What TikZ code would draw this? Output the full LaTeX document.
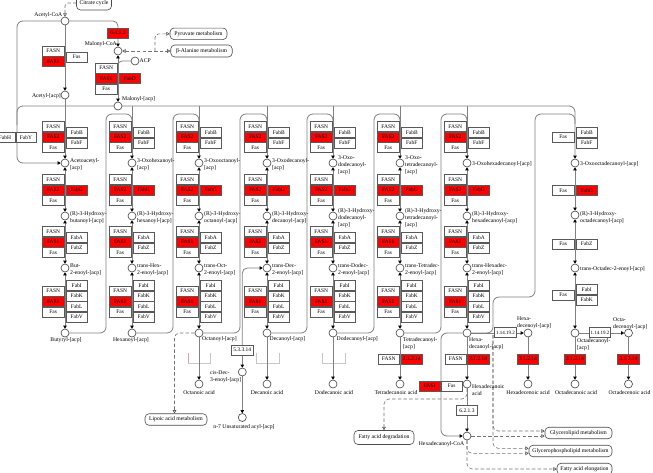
\documentclass[tikz,border=0pt]{standalone}
\usepackage{fontspec}
\setmainfont{Liberation Serif}
\usetikzlibrary{arrows.meta}
\pgfdeclarelayer{bg}
\pgfsetlayers{bg,main}
\tikzset{
  ktip/.tip={Triangle[width=3.4pt,length=3pt,color=black]},
  otip/.tip={Triangle[open,width=3.8pt,length=3.4pt,color=black!70]},
  kbox/.style={draw=black!65,line width=0.55pt,fill=white,minimum width=21.5pt,minimum height=9.6pt,inner sep=0pt,font=\fontsize{5.5}{6}\selectfont},
  rbox/.style={kbox,fill=red},
  cpd/.style={circle,draw=black!75,line width=0.6pt,fill=white,minimum size=8pt,inner sep=0pt},
  conn/.style={draw=black!50,line width=0.8pt},
  dconn/.style={draw=black!55,line width=0.6pt,dash pattern=on 3.5pt off 2.2pt},
  mapbox/.style={draw=black!70,line width=0.6pt,rounded corners=4pt,fill=white,inner xsep=2pt,inner ysep=0pt,minimum height=11.5pt},
  lbl/.style={inner sep=0pt,align=left},
  lblc/.style={inner sep=0pt,align=center},
}
\begin{document}
\begin{tikzpicture}[x=1pt,y=-1pt,font=\fontsize{5.7}{6.9}\selectfont]
\useasboundingbox (0,0) rectangle (653,472);
\clip (0,0) rectangle (653,472);

% ---------- repeated columns ----------
\foreach \i/\cx in {1/65,2/132,3/199,4/267,5/333,6/400,7/467}{
  \node[kbox] (a1\i) at (\cx-11.75,126.5) {FASN};
  \node[rbox] (a2\i) at (\cx-11.75,137) {FAS2};
  \node[kbox] (a3\i) at (\cx-11.75,147.5) {Fas};
  \node[kbox] (b1\i) at (\cx+11.75,132.5) {FabB};
  \node[kbox] (b2\i) at (\cx+11.75,143) {FabF};
  \node[kbox] (g1\i) at (\cx-11.75,179.5) {FASN};
  \node[rbox] (g2\i) at (\cx-11.75,190) {FAS2};
  \node[kbox] (g3\i) at (\cx-11.75,200.5) {Fas};
  \node[rbox] (g4\i) at (\cx+11.75,190) {FabG};
  \node[kbox] (z1\i) at (\cx-11.75,231.5) {FASN};
  \node[rbox] (z2\i) at (\cx-11.75,242) {FAS1};
  \node[kbox] (z3\i) at (\cx-11.75,252.5) {Fas};
  \node[kbox] (z4\i) at (\cx+11.75,237.5) {FabA};
  \node[kbox] (z5\i) at (\cx+11.75,248) {FabZ};
  \node[kbox] (r1\i) at (\cx-11.75,291) {FASN};
  \node[rbox] (r2\i) at (\cx-11.75,301.5) {FAS1};
  \node[kbox] (r3\i) at (\cx-11.75,312) {Fas};
  \node[kbox] (r4\i) at (\cx+11.75,285.5) {FabI};
  \node[kbox] (r5\i) at (\cx+11.75,296) {FabK};
  \node[kbox] (r6\i) at (\cx+11.75,306.5) {FabL};
  \node[kbox] (r7\i) at (\cx+11.75,317) {FabV};
  \node[cpd] (ox\i) at (\cx,163) {};
  \node[cpd] (hy\i) at (\cx,216) {};
  \node[cpd] (en\i) at (\cx,268) {};
  \node[cpd] (ac\i) at (\cx,333) {};
}
% ---------- column 8 (C18) ----------
\node[kbox] (a38) at (563.25,137) {Fas};
\node[kbox] (b18) at (586.75,132.5) {FabB};
\node[kbox] (b28) at (586.75,143) {FabF};
\node[kbox] (g38) at (563.25,190.5) {Fas};
\node[rbox] (g48) at (586.75,190.5) {FabG};
\node[kbox] (z38) at (563.25,244) {Fas};
\node[kbox] (z58) at (586.75,244) {FabZ};
\node[kbox] (r38) at (563.25,295) {Fas};
\node[kbox] (r48) at (586.75,289.5) {FabI};
\node[kbox] (r58) at (586.75,300) {FabK};
\node[cpd] (ox8) at (575,163) {};
\node[cpd] (hy8) at (575,215) {};
\node[cpd] (en8) at (575,268) {};
\node[cpd] (ac8) at (575,333) {};

% ---------- top left ----------
\node[cpd] (acoa) at (65,21) {};
\node[cpd] (mcoa) at (118,51) {};
\node[cpd] (aacp) at (65,95) {};
\node[cpd] (macp) at (118,106) {};
\node[cpd] (acp) at (135,61) {};
\node[rbox] (e6412) at (118,33) {6.4.1.2};
\node[kbox] (p1) at (53.25,51) {FASN};
\node[rbox] (p2) at (53.25,61.5) {FAS1};
\node[kbox] (p3) at (76.75,57) {Fas};
\node[kbox] (m1) at (106.25,68) {FASN};
\node[rbox] (m2) at (106.25,78.5) {FAS1};
\node[kbox] (m3) at (106.25,89) {Fas};
\node[rbox] (m4) at (129.75,78.5) {FabD};
\node[kbox] (fh) at (5,137.5) {FabH};
\node[kbox,minimum width=20pt] (fy) at (26,137.5) {FabY};
\node[mapbox,minimum width=35pt,minimum height=14pt] (cit) at (94,3) {Citrate cycle};
\node[mapbox,minimum width=57pt] (pyr) at (198.5,33.8) {Pyruvate metabolism};
\node[mapbox,minimum width=61.5pt,minimum height=12pt] (bala) at (201.5,51) {β-Alanine metabolism};

\node[lbl,anchor=east] (tacoa) at (62.5,15.5) {Acetyl-CoA};
\node[lbl,anchor=east] (tmcoa) at (117,44.5) {Malonyl-CoA};
\node[lbl,anchor=east] (taacp) at (61,96) {Acetyl-[acp]};
\node[lbl,anchor=west] (tmacp) at (122,99.5) {Malonyl-[acp]};
\node[lbl,anchor=west] (tacp) at (139.5,61) {ACP};

% ---------- lower part ----------
\node[kbox] (t1) at (388.75,359) {FASN};
\node[rbox] (t2) at (411.75,359) {3.1.2.14};
\node[kbox] (t3) at (455.75,359) {FASN};
\node[rbox] (t4) at (478.25,359) {3.1.2.14};
\node[rbox] (t5) at (528,359) {3.1.2.14};
\node[rbox] (t6) at (575,359) {3.1.2.14};
\node[rbox] (t7) at (628.5,359) {3.1.2.14};
\node[kbox] (e53314) at (242.3,350) {5.3.3.14};
\node[kbox,font=\fontsize{5}{6}\selectfont] (d9a) at (505.5,332.5) {1.14.19.2};
\node[kbox,font=\fontsize{5}{6}\selectfont] (d9b) at (600,332.5) {1.14.19.2};
\node[kbox] (e6213) at (467,410.5) {6.2.1.3};
\node[rbox,minimum width=20.5pt] (hfas1) at (430,386) {FAS1};
\node[kbox,minimum width=20.5pt] (hfas) at (451.75,386) {Fas};

\node[cpd] (hxe) at (528,333) {};
\node[cpd] (oce) at (628.5,333) {};
\node[cpd] (acid3) at (199,384) {};
\node[cpd] (acid4) at (267,384) {};
\node[cpd] (acid5) at (333,384) {};
\node[cpd] (acid6) at (400,384) {};
\node[cpd] (acid7) at (467,384) {};
\node[cpd] (hxea) at (528,384) {};
\node[cpd] (acid8) at (575,384) {};
\node[cpd] (ocea) at (628.5,384) {};
\node[cpd] (cis) at (242.3,372) {};
\node[cpd] (n7) at (242.3,417.5) {};
\node[cpd] (hcoa) at (467,436) {};

\node[mapbox,minimum width=62pt] (lip) at (176,419.5) {Lipoic acid metabolism};
\node[mapbox,minimum width=60pt,minimum height=14pt] (fad) at (384,437.5) {Fatty acid degradation};
\node[mapbox,minimum width=67pt] (gl) at (578.5,433) {Glycerolipid metabolism};
\node[mapbox,minimum width=83pt] (gp) at (570.5,451) {Glycerophospholipid metabolism};
\node[mapbox,minimum width=55pt] (fae) at (584.5,469) {Fatty acid elongation};

\coordinate (y431) at (0,431);
\coordinate (y448) at (0,448.3);
\coordinate (y453) at (0,453.3);
\coordinate (y469) at (0,469);
\coordinate (dl) at (174.5,333);

% ---------- compound labels ----------
\node[lbl,anchor=west] (lo1) at (70,165) {Acetoacetyl-\\{}[acp]};
\node[lbl,anchor=west] (lh1) at (70,218) {(R)-3-Hydroxy-\\butanoyl-[acp]};
\node[lbl,anchor=west] (le1) at (70,269.5) {But-\\2-enoyl-[acp]};
\node[lblc] (la1) at (66,340.5) {Butyryl-[acp]};
\node[lbl,anchor=west] (lo2) at (137,165) {3-Oxohexanoyl-\\{}[acp]};
\node[lbl,anchor=west] (lh2) at (137,218) {(R)-3-Hydroxy-\\hexanoyl-[acp]};
\node[lbl,anchor=west] (le2) at (137,269.5) {trans-Hex-\\2-enoyl-[acp]};
\node[lblc] (la2) at (131,340.5) {Hexanoyl-[acp]};
\node[lbl,anchor=west] (lo3) at (204,165) {3-Oxooctanoyl-\\{}[acp]};
\node[lbl,anchor=west] (lh3) at (204,218) {(R)-3-Hydroxy-\\octanoyl-[acp]};
\node[lbl,anchor=west] (le3) at (204,269.5) {trans-Oct-\\2-enoyl-[acp]};
\node[lbl,anchor=west] (la3) at (202,339.5) {Octanoyl-[acp]};
\node[lbl,anchor=west] (lo4) at (272,165) {3-Oxodecanoyl-\\{}[acp]};
\node[lbl,anchor=west] (lh4) at (272,218) {(R)-3-Hydroxy-\\decanoyl-[acp]};
\node[lbl,anchor=west] (le4) at (272,269.5) {trans-Dec-\\2-enoyl-[acp]};
\node[lbl,anchor=west] (la4) at (269.5,339.5) {Decanoyl-[acp]};
\node[lbl,anchor=west] (lo5) at (338,165) {3-Oxo-\\dodecanoyl-\\{}[acp]};
\node[lbl,anchor=west] (lh5) at (338,218) {(R)-3-Hydroxy-\\dodecanoyl-\\{}[acp]};
\node[lbl,anchor=west] (le5) at (338,269.5) {trans-Dodec-\\2-enoyl-[acp]};
\node[lbl,anchor=west] (la5) at (336.5,339.5) {Dodecanoyl-[acp]};
\node[lbl,anchor=west] (lo6) at (405,165) {3-Oxo-\\tetradecanoyl-\\{}[acp]};
\node[lbl,anchor=west] (lh6) at (405,218) {(R)-3-Hydroxy-\\tetradecanoyl-\\{}[acp]};
\node[lbl,anchor=west] (le6) at (405,269.5) {trans-Tetradec-\\2-enoyl-[acp]};
\node[lbl,anchor=west] (la6) at (403,343.5) {Tetradecanoyl-\\{}[acp]};
\node[lbl,anchor=west] (lo7) at (472,164.5) {3-Oxohexadecanoyl-[acp]};
\node[lbl,anchor=west] (lh7) at (472,218) {(R)-3-Hydroxy-\\hexadecanoyl-[acp]};
\node[lbl,anchor=west] (le7) at (472,269.5) {trans-Hexadec-\\2-enoyl-[acp]};
\node[lbl,anchor=west] (la7) at (469,343.5) {Hexa-\\decanoyl-[acp]};
\node[lbl,anchor=west] (lo8) at (580,164.5) {3-Oxooctadecanoyl-[acp]};
\node[lbl,anchor=west] (lh8) at (580,218) {(R)-3-Hydroxy-\\octadecanoyl-[acp]};
\node[lbl,anchor=west] (le8) at (580,269) {trans-Octadec-2-enoyl-[acp]};
\node[lbl,anchor=west] (la8) at (577,344.5) {Octadecanoyl-\\{}[acp]};
\node[lbl,anchor=west] (lhxe) at (517,322.5) {Hexa-\\decenoyl-[acp]};
\node[lbl,anchor=west] (loce) at (613,323.5) {Octa-\\decenoyl-[acp]};
\node[lbl,anchor=west] (lcis) at (210,377) {cis-Dec-\\3-enoyl-[acp]};
\node[lblc] (ln7) at (244,427.5) {n-7 Unsaturated acyl-[acp]};
\node[lblc] (lac3) at (199,392.5) {Octanoic acid};
\node[lblc] (lac4) at (267,393) {Decanoic acid};
\node[lblc] (lac5) at (334,393) {Dodecanoic acid};
\node[lblc] (lac6) at (396,393) {Tetradecanoic acid};
\node[lbl,anchor=west] (lac7) at (472,390) {Hexadecanoic\\acid};
\node[lblc] (lhxea) at (528,393) {Hexadecenoic acid};
\node[lblc] (lac8) at (576,393) {Octadecanoic acid};
\node[lblc] (locea) at (629.5,393) {Octadecenoic acid};
\node[lblc] (lhcoa) at (441.5,444) {Hexadecanoyl-CoA};

% ---------- connectors (behind) ----------
\begin{pgfonlayer}{bg}
  \fill[white] (0,0) rectangle (653,472);
  % empty placeholder boxes
  \draw[draw={rgb,255:red,225;green,160;blue,160},line width=0.6pt] (188.3,353) -- (188.3,363.5);
  \draw[draw=black!22,line width=0.6pt] (188.3,363.5) -- (210,363.5) -- (210,353);
  \draw[draw=black!22,line width=0.6pt] (256,353) -- (256,363.5) -- (279,363.5) -- (279,353);
  \draw[draw=black!22,line width=0.6pt] (322.7,353) -- (322.7,363.5) -- (345,363.5) -- (345,353);

  % top-left
  \draw[conn,-{ktip}] (acoa) -- (aacp);
  \draw[conn,-{ktip}] (aacp) -- (ox1);
  \draw[conn,-{ktip},rounded corners=5] (acoa) -- (118,21) -- (mcoa);
  \draw[conn,{ktip}-{ktip}] (mcoa) -- (macp);
  \draw[conn,rounded corners=4] (acp) -- (118,61) -- (118,70);
  \draw[conn,-{ktip},rounded corners=6] (acoa) -- (17,21) -- (17,163) -- (ox1);
  \draw[conn,-{ktip},rounded corners=6] (17,125) -- (17,106) -- (575,106) -- (ox8);
  \draw[dconn,{otip}-,rounded corners=3] (acoa) |- (cit.west);
  \draw[dconn,{otip}-{otip}] (mcoa) -- (bala.west);
  \draw[dconn,-{otip},rounded corners=4] (155,51) |- (pyr.west);

  % columns
  \foreach \i/\cx in {2/132,3/199,4/267,5/333,6/400,7/467}{
    \draw[conn,-{ktip}] (\cx,106) -- (ox\i);
  }
  \foreach \i in {1,...,8}{
    \draw[conn,{ktip}-{ktip}] (ox\i) -- (hy\i);
    \draw[conn,{ktip}-{ktip}] (hy\i) -- (en\i);
    \draw[conn,{ktip}-{ktip}] (en\i) -- (ac\i);
  }
  % elongation loops
  \draw[conn,rounded corners=6] (ac1) -- (106,333) -- (106,114) -- (132,114) -- (132,124);
  \draw[conn,rounded corners=6] (ac2) -- (173,333) -- (173,114) -- (199,114) -- (199,124);
  \draw[conn,rounded corners=6] (ac3) -- (240,333) -- (240,114) -- (267,114) -- (267,124);
  \draw[conn,rounded corners=6] (ac4) -- (307,333) -- (307,114) -- (333,114) -- (333,124);
  \draw[conn,rounded corners=6] (ac5) -- (374,333) -- (374,114) -- (400,114) -- (400,124);
  \draw[conn,rounded corners=6] (ac6) -- (441,333) -- (441,114) -- (467,114) -- (467,124);
  \draw[conn,rounded corners=6] (ac7) -- (493,333) -- (493,297) -- (535,297) -- (535,114) -- (575,114) -- (575,124);

  % unsaturated branch
  \draw[conn,{ktip}-,rounded corners=5] (en4) -- (242.3,268) -- (e53314.north);
  \draw[conn,-{ktip}] (e53314) -- (cis);
  \draw[conn,-{ktip}] (cis) -- (n7);

  % acids
  \draw[conn,-{ktip}] (ac3) -- (acid3);
  \draw[conn,-{ktip}] (ac4) -- (acid4);
  \draw[conn,-{ktip}] (ac5) -- (acid5);
  \draw[conn,-{ktip}] (ac6) -- (acid6);
  \draw[conn,-{ktip}] (ac7) -- (acid7);
  \draw[conn,-{ktip}] (ac8) -- (acid8);
  \draw[conn,-{ktip}] (hxe) -- (hxea);
  \draw[conn,-{ktip}] (oce) -- (ocea);
  \draw[conn,-{ktip}] (ac7) -- (hxe);
  \draw[conn,-{ktip}] (ac8) -- (oce);
  \draw[conn,-{ktip},rounded corners=6] (ac7) -- (441,333) -- (441,436) -- (hcoa);
  \draw[conn,-{ktip}] (acid7) -- (hcoa);

  % dashed map links
  \draw[dconn,-{otip},rounded corners=5] (ac3) -- (dl) -- (lip.north -| dl);
  \draw[dconn,-{otip},rounded corners=5] (acid7) -- (467,399) -- (384,399) -- (fad);
  \draw[dconn,-{otip}] (hcoa) -- (hcoa -| gl.west);
  \draw[dconn,-{otip},rounded corners=5] (493,335) -- (493,431) -- (y431 -| gl.west);
  \draw[dconn,-{otip},rounded corners=5] (493,335) -- (493,448.3) -- (y448 -| gp.west);
  \draw[dconn,-{otip},rounded corners=5] (hcoa) -- (467,453.3) -- (y453 -| gp.west);
  \draw[dconn,-{otip},rounded corners=5] (hcoa) -- (467,469) -- (y469 -| fae.west);
\end{pgfonlayer}
\end{tikzpicture}
\end{document}
